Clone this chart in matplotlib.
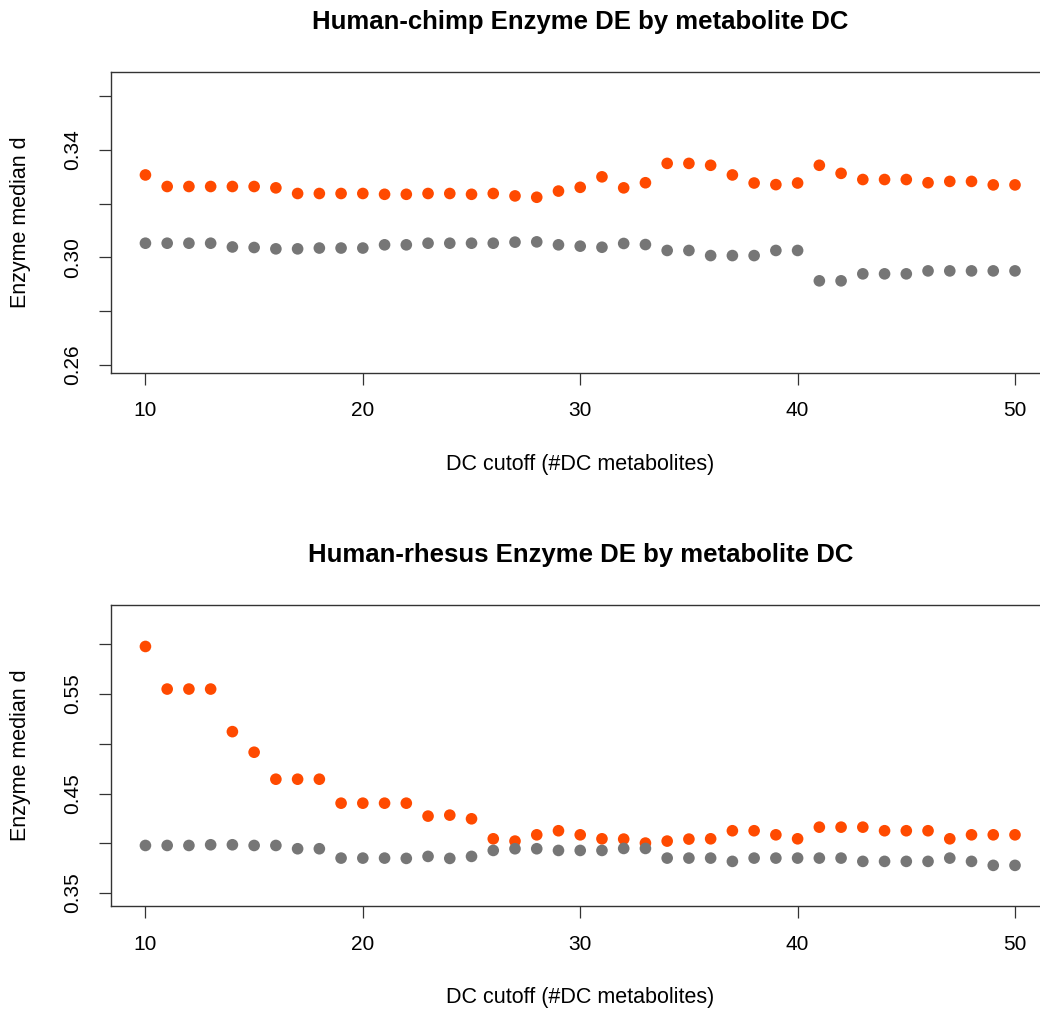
import matplotlib
matplotlib.use("Agg")
import matplotlib.pyplot as plt

plt.rcParams['font.family'] = ['Liberation Sans', 'DejaVu Sans']

cutoffs = list(range(10, 51))

chimp_orange = [0.3307, 0.3264, 0.3264, 0.3264, 0.3264, 0.3264, 0.3259, 0.3238, 0.3238, 0.3238,
                0.3238, 0.3235, 0.3235, 0.3238, 0.3238, 0.3235, 0.3238, 0.3229, 0.3224, 0.3247,
                0.3261, 0.3300, 0.3259, 0.3278, 0.3350, 0.3350, 0.3343, 0.3307, 0.3277, 0.3271,
                0.3277, 0.3343, 0.3313, 0.3290, 0.3290, 0.3290, 0.3278, 0.3283, 0.3283, 0.3270,
                0.3270]
chimp_gray = [0.3053, 0.3053, 0.3053, 0.3053, 0.3039, 0.3037, 0.3032, 0.3032, 0.3035, 0.3035,
              0.3035, 0.3047, 0.3047, 0.3053, 0.3053, 0.3053, 0.3053, 0.3057, 0.3058, 0.3047,
              0.3042, 0.3038, 0.3052, 0.3048, 0.3026, 0.3026, 0.3007, 0.3007, 0.3007, 0.3026,
              0.3026, 0.2913, 0.2913, 0.2939, 0.2939, 0.2939, 0.2950, 0.2950, 0.2950, 0.2950,
              0.2950]

rhesus_orange = [0.5978, 0.5550, 0.5550, 0.5550, 0.5122, 0.4915, 0.4644, 0.4644, 0.4644, 0.4403,
                 0.4403, 0.4403, 0.4403, 0.4273, 0.4283, 0.4246, 0.4045, 0.4022, 0.4085, 0.4126,
                 0.4085, 0.4045, 0.4042, 0.4002, 0.4022, 0.4042, 0.4045, 0.4126, 0.4126, 0.4085,
                 0.4045, 0.4162, 0.4162, 0.4162, 0.4126, 0.4126, 0.4126, 0.4045, 0.4085, 0.4085,
                 0.4085]
rhesus_gray = [0.3978, 0.3978, 0.3978, 0.3985, 0.3985, 0.3978, 0.3978, 0.3945, 0.3945, 0.3851,
               0.3851, 0.3851, 0.3848, 0.3868, 0.3848, 0.3868, 0.3928, 0.3945, 0.3945, 0.3928,
               0.3928, 0.3928, 0.3948, 0.3948, 0.3851, 0.3851, 0.3851, 0.3818, 0.3851, 0.3851,
               0.3851, 0.3851, 0.3851, 0.3818, 0.3818, 0.3818, 0.3818, 0.3851, 0.3818, 0.3778,
               0.3778]

titles = ["Human-chimp Enzyme DE by metabolite DC", "Human-rhesus Enzyme DE by metabolite DC"]
xticks = [10, 20, 30, 40, 50]
top_yticks = [0.26, 0.28, 0.30, 0.32, 0.34, 0.36]
top_ylabels = ["0.26", "", "0.30", "", "0.34", ""]
bot_yticks = [0.35, 0.40, 0.45, 0.50, 0.55, 0.60]
bot_ylabels = ["0.35", "", "0.45", "", "0.55", ""]

ORANGE = "#FF4A00"
GRAY = "#767676"

fig = plt.figure(figsize=(10.40, 10.11), dpi=100)

panels = [
    dict(pos=[0.1064, 0.6314, 0.903, 0.2977], o=chimp_orange, g=chimp_gray,
         ylim=(0.25713, 0.36913), yt=top_yticks, yl=top_ylabels, title=titles[0]),
    dict(pos=[0.1064, 0.1039, 0.903, 0.2977], o=rhesus_orange, g=rhesus_gray,
         ylim=(0.3370, 0.6395), yt=bot_yticks, yl=bot_ylabels, title=titles[1]),
]

for p in panels:
    ax = fig.add_axes(p['pos'])
    ax.scatter(cutoffs, p['o'], s=70, color=ORANGE, edgecolors='none', zorder=3)
    ax.scatter(cutoffs, p['g'], s=70, color=GRAY, edgecolors='none', zorder=3)
    ax.set_xlim(8.4, 51.6)
    ax.set_ylim(*p['ylim'])
    ax.set_xticks(xticks)
    ax.set_xticklabels([str(t) for t in xticks])
    ax.set_yticks(p['yt'])
    ax.set_yticklabels(p['yl'], rotation=90, va='center')
    for s in ax.spines.values():
        s.set_color('#333333')
        s.set_linewidth(1.0)
    ax.tick_params(axis='both', length=8.6, width=0.9, color='#333333',
                   labelsize=15)
    ax.tick_params(axis='x', pad=12)
    ax.tick_params(axis='y', pad=12)
    ax.set_xlabel("DC cutoff (#DC metabolites)", fontsize=15.5, labelpad=24)
    ax.set_ylabel("Enzyme median d", fontsize=15.5, labelpad=23)
    ax.set_title(p['title'], fontsize=18.5, fontweight='bold', pad=31)

fig.savefig("out.png", dpi=100)
